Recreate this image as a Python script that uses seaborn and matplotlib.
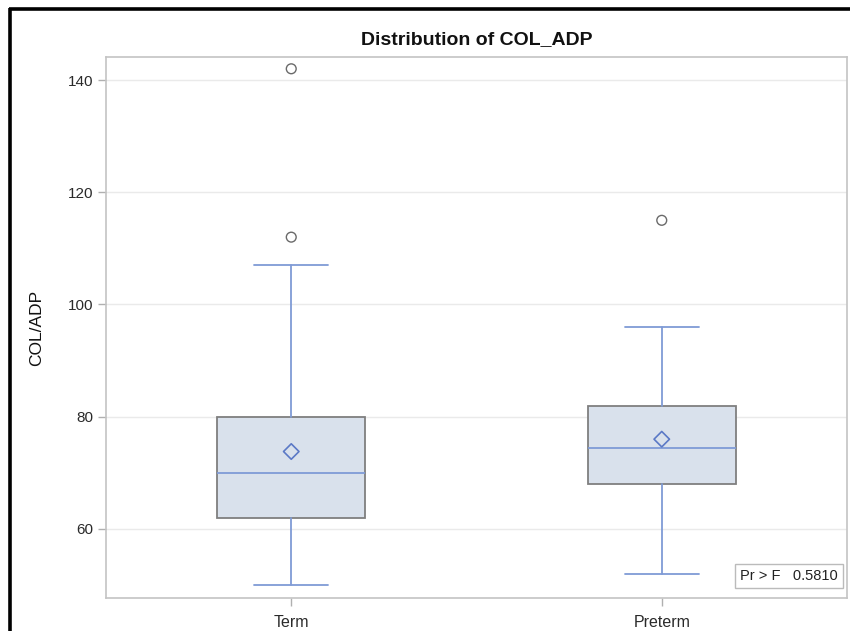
import matplotlib
matplotlib.use("Agg")
import matplotlib.pyplot as plt
from matplotlib.lines import Line2D
import seaborn as sns
import pandas as pd

# ---- data ----
groups = ["Term", "Preterm"]
q1 = [62.0, 68.0]
median = [70.0, 74.5]
q3 = [80.0, 82.0]
whisker_low = [50.0, 52.0]
whisker_high = [107.0, 96.0]
means = [73.8, 76.0]
outliers = [[112.0, 142.0], [115.0]]
y_ticks = [60, 80, 100, 120, 140]
title = "Distribution of COL_ADP"
y_label = "COL/ADP"
stat_text = "Pr > F   0.5810"

sns.set_theme(style="white")
plt.rcParams["font.family"] = ["Liberation Sans", "DejaVu Sans"]

W, H = 850, 631
fig = plt.figure(figsize=(W / 100, H / 100), dpi=100)
ax = fig.add_axes([106 / W, 1 - 598 / H, (847 - 106) / W, (598 - 57) / H])

box_fill = "#D9E1EC"
box_edge = "#7F7F7F"
blue = "#7F9BD6"
mean_blue = "#5B79C6"

stats = []
for i, g in enumerate(groups):
    stats.append(dict(label=g, q1=q1[i], med=median[i], q3=q3[i],
                      whislo=whisker_low[i], whishi=whisker_high[i],
                      mean=means[i], fliers=[]))

ax.bxp(stats, positions=list(range(len(groups))), widths=0.4,
       capwidths=0.2, patch_artist=True, showfliers=False, showmeans=False,
       boxprops=dict(facecolor=box_fill, edgecolor=box_edge, linewidth=1.3),
       medianprops=dict(color=blue, linewidth=1.3),
       whiskerprops=dict(color=blue, linewidth=1.3),
       capprops=dict(color=blue, linewidth=1.3), zorder=3)

mean_df = pd.DataFrame({"x": list(range(len(groups))), "y": means})
sns.scatterplot(data=mean_df, x="x", y="y", marker="D", s=62,
                facecolor="none", edgecolor=mean_blue, linewidth=1.2,
                ax=ax, zorder=4)

ox, oy = [], []
for i, vals in enumerate(outliers):
    for v in vals:
        ox.append(i)
        oy.append(v)
out_df = pd.DataFrame({"x": ox, "y": oy})
sns.scatterplot(data=out_df, x="x", y="y", marker="o", s=50,
                facecolor="none", edgecolor="#6A6A6A", linewidth=1.0,
                ax=ax, zorder=4)

ax.set_xlim(-0.5, 1.5)
ax.set_ylim(47.7, 144.1)
ax.set_xticks(list(range(len(groups))))
ax.set_xticklabels(groups, fontsize=11.5, color="#2A2A2A")
ax.set_yticks(y_ticks)
ax.set_yticklabels([str(t) for t in y_ticks], fontsize=11, color="#2A2A2A")
ax.set_xlabel("")
ax.set_ylabel(y_label, fontsize=12.5, color="#111111", labelpad=17)
ax.set_title(title, fontsize=14, fontweight="bold", pad=9, color="#111111")

ax.yaxis.grid(True, color="#EAEAEA", linewidth=1.0, zorder=0)
ax.xaxis.grid(False)
ax.set_axisbelow(True)
for s in ax.spines.values():
    s.set_visible(True)
    s.set_color("#C4C4C4")
    s.set_linewidth(1.2)
ax.tick_params(axis="both", which="major", length=6, width=1.0,
               color="#B0B0B0", direction="out", bottom=True, left=True)
ax.tick_params(axis="y", pad=3)
ax.tick_params(axis="x", pad=6)

ax.text(0.988, 0.028, stat_text, transform=ax.transAxes, ha="right", va="bottom",
        fontsize=10.5, color="#222222", zorder=5,
        bbox=dict(boxstyle="square,pad=0.35", facecolor="white",
                  edgecolor="#BBBBBB", linewidth=1.0))

# outer black frame (screenshot border)
fig.add_artist(Line2D([9.5 / W, 9.5 / W], [0, 1 - 7.5 / H], transform=fig.transFigure,
                      color="black", linewidth=2.6, solid_capstyle="butt"))
fig.add_artist(Line2D([8.5 / W, 1], [1 - 8.5 / H, 1 - 8.5 / H], transform=fig.transFigure,
                      color="black", linewidth=2.6, solid_capstyle="butt"))

fig.savefig("out.png", dpi=100)
